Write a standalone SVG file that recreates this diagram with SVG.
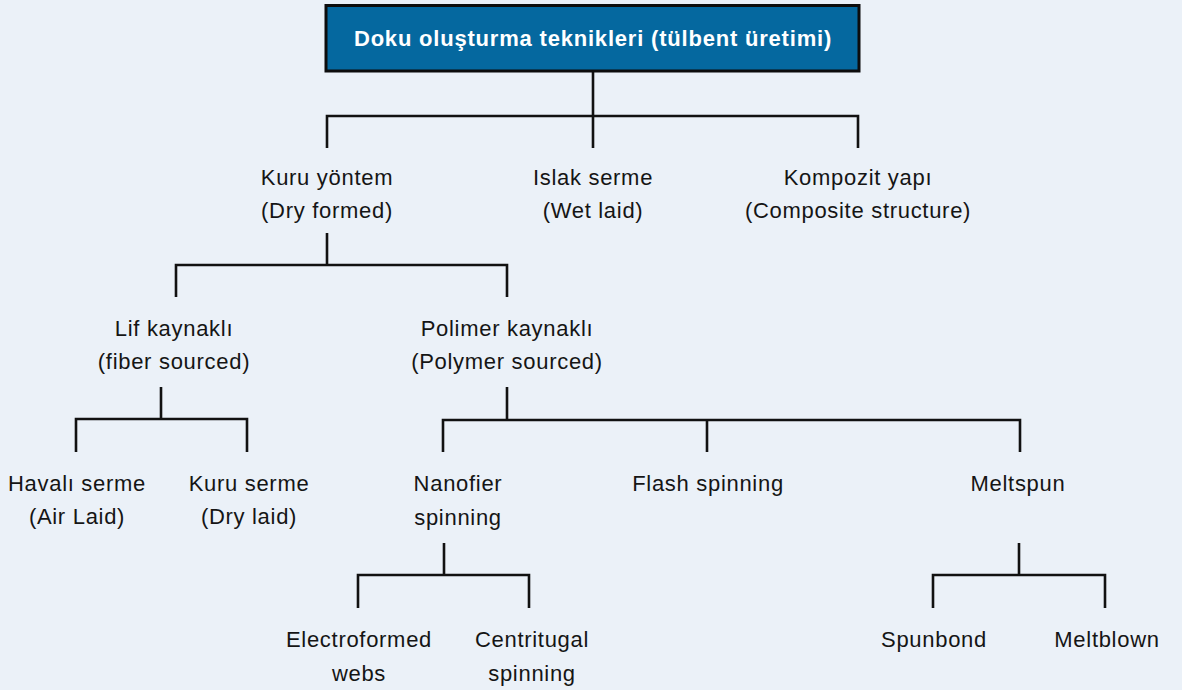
<svg xmlns="http://www.w3.org/2000/svg" width="1182" height="690" viewBox="0 0 1182 690">
<style>
.bg{fill:#ebf1f8}
.lbl{font-family:"Liberation Sans",Arial,Helvetica,sans-serif;font-size:22px;letter-spacing:0.7px;fill:#151515;text-anchor:middle}
.title{font-family:"Liberation Sans",Arial,Helvetica,sans-serif;font-size:22px;font-weight:bold;letter-spacing:0.8px;fill:#ffffff;text-anchor:middle}
.conn path{fill:none;stroke:#111;stroke-width:2.6}
.box{fill:#05689f;stroke:#0d0d0d;stroke-width:3}
</style>
<rect class="bg" x="0" y="0" width="1182" height="690"/>
<g class="conn" id="connectors">
<path d="M593 72V116M327 148V116H858V148M593 116V148"/>
<path d="M327 233V265M176 297V265H507V297"/>
<path d="M161 387V419M76 452V419H247V452"/>
<path d="M507 387V420M443 452V420H1020V452M707 420V452"/>
<path d="M444 543V575M358 608V575H529V608"/>
<path d="M1019 543V575M933 608V575H1105V608"/>
</g>
<g id="n-root"><rect class="box" x="326" y="5.5" width="533" height="65.5"/><text class="title" x="593" y="46">Doku oluşturma teknikleri (tülbent üretimi)</text></g>
<g id="n-kuru"><text class="lbl" x="327" y="185">Kuru yöntem</text><text class="lbl" x="327" y="218">(Dry formed)</text></g>
<g id="n-islak"><text class="lbl" x="593" y="185">Islak serme</text><text class="lbl" x="593" y="218">(Wet laid)</text></g>
<g id="n-kompozit"><text class="lbl" x="858" y="185">Kompozit yapı</text><text class="lbl" x="858" y="218">(Composite structure)</text></g>
<g id="n-lif"><text class="lbl" x="174" y="336">Lif kaynaklı</text><text class="lbl" x="174" y="369">(fiber sourced)</text></g>
<g id="n-polimer"><text class="lbl" x="507" y="336">Polimer kaynaklı</text><text class="lbl" x="507" y="369">(Polymer sourced)</text></g>
<g id="n-havali"><text class="lbl" x="77" y="491">Havalı serme</text><text class="lbl" x="77" y="524">(Air Laid)</text></g>
<g id="n-kuruserme"><text class="lbl" x="249" y="491">Kuru serme</text><text class="lbl" x="249" y="524">(Dry laid)</text></g>
<g id="n-nano"><text class="lbl" x="458" y="491">Nanofier</text><text class="lbl" x="458" y="525">spinning</text></g>
<g id="n-flash"><text class="lbl" x="708" y="491">Flash spinning</text></g>
<g id="n-meltspun"><text class="lbl" x="1018" y="491">Meltspun</text></g>
<g id="n-electro"><text class="lbl" x="359" y="647">Electroformed</text><text class="lbl" x="359" y="681">webs</text></g>
<g id="n-centri"><text class="lbl" x="532" y="647">Centritugal</text><text class="lbl" x="532" y="681">spinning</text></g>
<g id="n-spunbond"><text class="lbl" x="934" y="647">Spunbond</text></g>
<g id="n-meltblown"><text class="lbl" x="1107" y="647">Meltblown</text></g>
</svg>
